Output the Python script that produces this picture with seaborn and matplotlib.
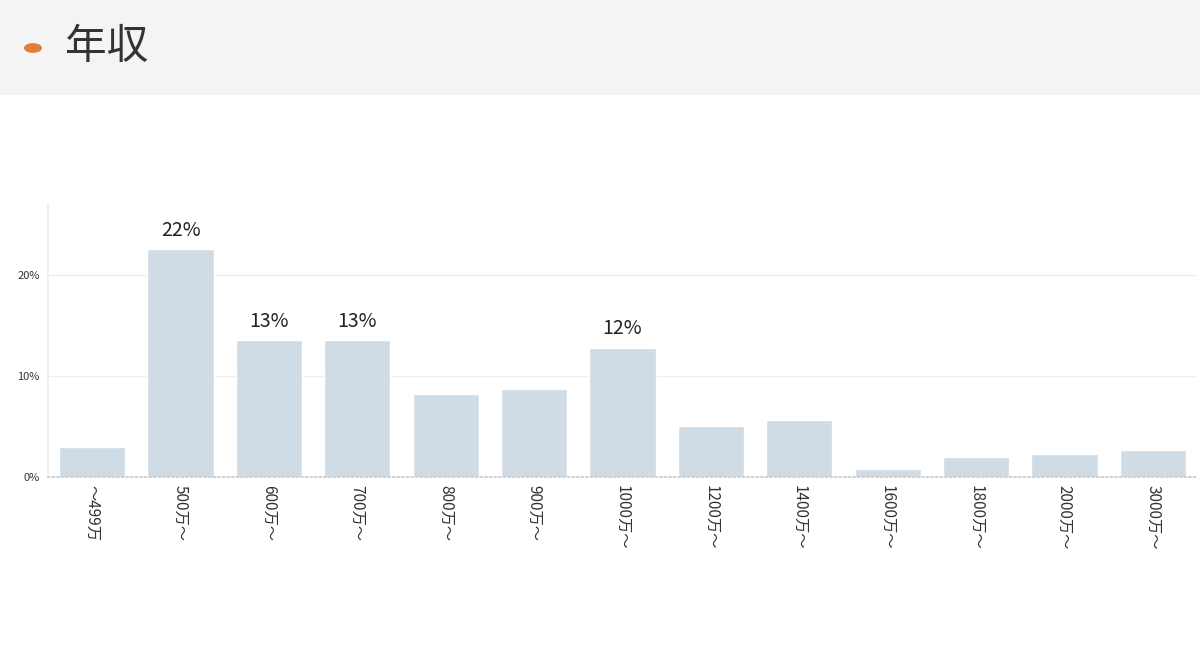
import matplotlib.pyplot as plt
import matplotlib.patches as mpatches
import pandas as pd
import seaborn as sns

categories = ["～499万", "500万～", "600万～", "700万～", "800万～", "900万～", "1000万～",
              "1200万～", "1400万～", "1600万～", "1800万～", "2000万～", "3000万～"]
shares = [3.0, 22.5, 13.5, 13.5, 8.2, 8.7, 12.8, 5.0, 5.6, 0.8, 2.0, 2.3, 2.7]
labelled = ["500万～", "600万～", "700万～", "1000万～"]

sns.set_theme(style="white")
plt.rcParams["font.family"] = ["Noto Sans CJK JP", "DejaVu Sans"]

df = pd.DataFrame({"cat": categories, "share": shares})

fig = plt.figure(figsize=(12, 6.54), dpi=100)
fig.patch.set_facecolor("white")

# header band
fig.patches.append(mpatches.Rectangle((0, 1 - 95 / 654), 1, 95 / 654, transform=fig.transFigure,
                                      facecolor="#f4f4f4", edgecolor="none", zorder=0))
fig.patches.append(mpatches.Circle((33 / 1200, 1 - 48 / 654), 0.0075, transform=fig.transFigure,
                                   facecolor="#e07f35", edgecolor="none"))
fig.text(65 / 1200, 1 - 48 / 654, "年収", fontsize=30, color="#333333", va="center", ha="left")

ax = fig.add_axes([48 / 1200, 1 - 477 / 654, 1149 / 1200, 272 / 654])
sns.barplot(data=df, x="cat", y="share", color="#d0dce5", width=0.75, saturation=1, ax=ax)
ax.set_xlim(-0.5, 12.5)
ax.set_ylim(0, 26.9)
ax.set_yticks([0, 10, 20])
ax.set_yticklabels(["0%", "10%", "20%"], fontsize=8, color="#333333")
ax.yaxis.grid(True, color="#eeeeee", linewidth=1)
ax.set_axisbelow(True)
ax.set_xlabel("")
ax.set_ylabel("")
ax.tick_params(axis="x", labelrotation=270, labelsize=11, colors="#333333", length=0, pad=6)
ax.tick_params(axis="y", length=0, pad=6)
for s in ["top", "right"]:
    ax.spines[s].set_visible(False)
ax.spines["left"].set_color("#eeeeee")
ax.spines["bottom"].set_linestyle(":")
ax.spines["bottom"].set_color("#cccccc")

for i, (c, v) in enumerate(zip(categories, shares)):
    if c in labelled:
        ax.text(i, v + 0.8, f"{int(v)}%", ha="center", va="bottom", fontsize=14, color="#222222")

fig.savefig("out.png", dpi=100)
